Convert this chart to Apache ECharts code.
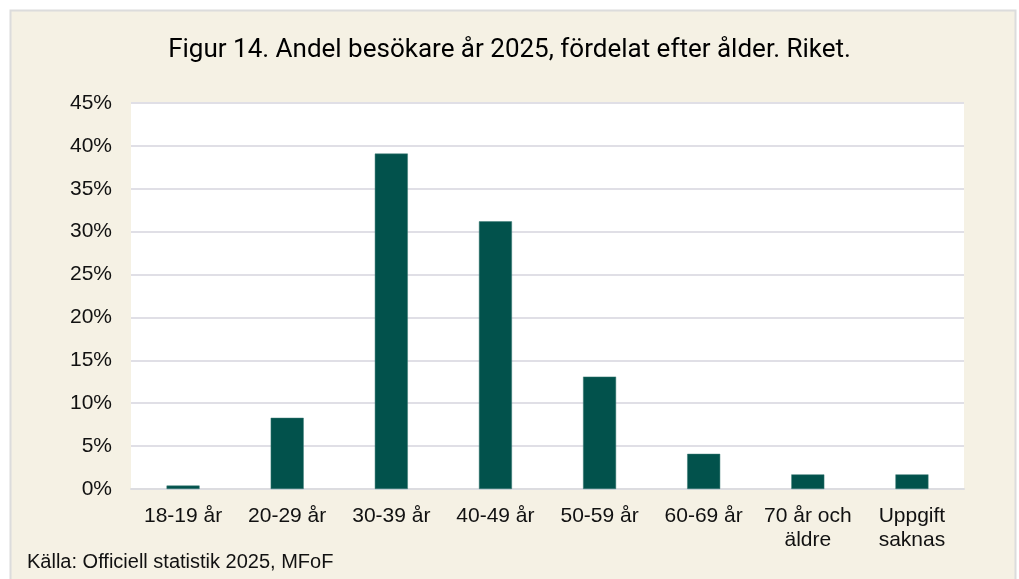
<!DOCTYPE html>
<html lang="sv">
<head>
    <meta charset="UTF-8">
    <title>Figur 14</title>
    <style>
        html, body { margin: 0; padding: 0; background: #fff; }
        .show { width: 1019px; height: 579px; }
    </style>
</head>
<body>
    <div class="show"></div>
    <script src="https://cdn.jsdelivr.net/npm/echarts@6/dist/echarts.min.js"></script>
    <script>
        // åldersgrupper och andel (%)
        const categories = ['18-19 år', '20-29 år', '30-39 år', '40-49 år', '50-59 år', '60-69 år', '70 år och\näldre', 'Uppgift\nsaknas']
        const shares = [0.4, 8.3, 39.1, 31.2, 13.1, 4.1, 1.7, 1.7]
        const yTicks = [0, 5, 10, 15, 20, 25, 30, 35, 40, 45]

        const myChart = echarts.init(document.querySelector('.show'))
        const option = {
            backgroundColor: '#fff',
            animation: false,
            title: {
                text: 'Figur 14. Andel besökare år 2025, fördelat efter ålder. Riket.',
                left: 'center',
                top: 32,
                textStyle: { fontFamily: 'Roboto', fontSize: 26, fontWeight: 'normal', color: '#000' }
            },
            grid: {
                left: 131, right: 55, top: 103, bottom: 90,
                show: true, backgroundColor: '#fff', borderWidth: 0
            },
            xAxis: {
                type: 'category',
                data: categories,
                axisLine: { lineStyle: { color: '#dcdce0', width: 2 } },
                axisTick: { show: false },
                axisLabel: {
                    interval: 0,
                    margin: 15,
                    fontFamily: 'Liberation Sans',
                    fontSize: 21,
                    lineHeight: 24,
                    color: '#111'
                }
            },
            yAxis: {
                type: 'value',
                min: yTicks[0],
                max: yTicks[yTicks.length - 1],
                interval: 5,
                axisLine: { show: false },
                axisTick: { show: false },
                splitLine: { lineStyle: { color: '#e0dfe6', width: 2 } },
                axisLabel: {
                    margin: 19,
                    formatter: '{value}%',
                    fontFamily: 'Liberation Sans',
                    fontSize: 21,
                    color: '#111'
                }
            },
            series: [{
                type: 'bar',
                data: shares,
                barWidth: 33,
                itemStyle: { color: '#02524c', borderColor: '#3a7a74', borderWidth: 0.5 }
            }],
            graphic: [{
                // beige ram runt diagrammet
                type: 'rect',
                z: -10,
                shape: { x: 10.5, y: 10.5, width: 1005, height: 580 },
                style: { fill: '#f5f1e4', stroke: '#dcdcdc', lineWidth: 2 }
            }, {
                // källa längst ner
                type: 'text',
                left: 27,
                top: 552,
                style: {
                    text: 'Källa: Officiell statistik 2025, MFoF',
                    font: '20px "Liberation Sans"',
                    fill: '#111'
                }
            }]
        }
        myChart.setOption(option)
    </script>
</body>
</html>
